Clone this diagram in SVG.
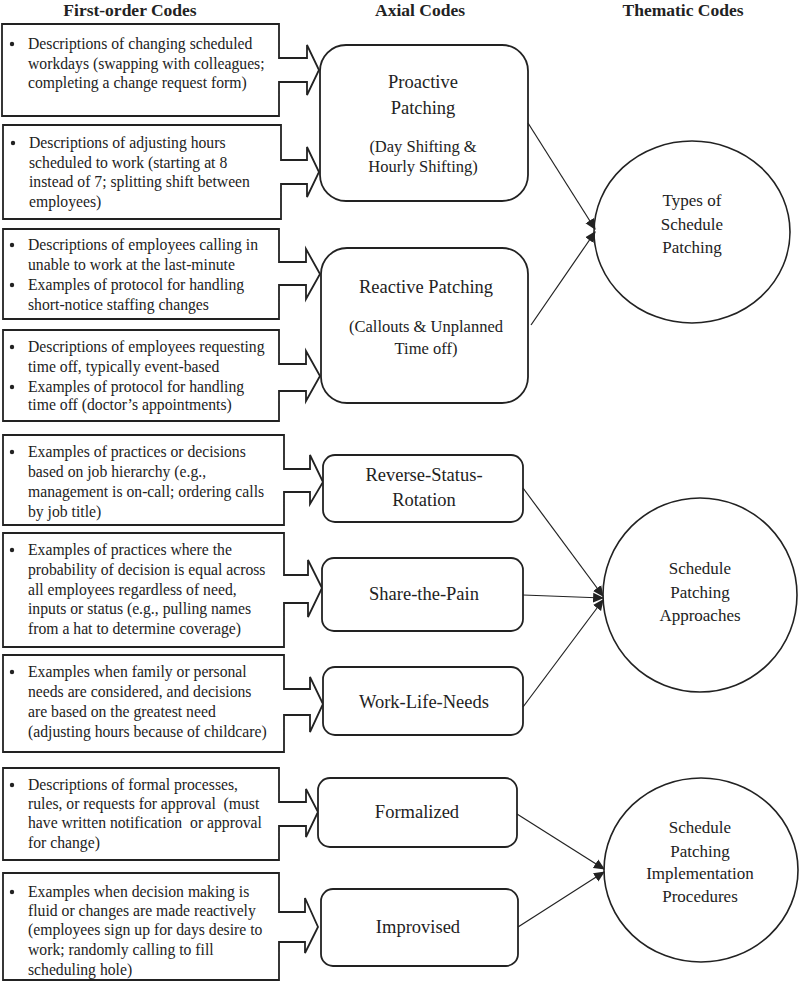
<svg xmlns="http://www.w3.org/2000/svg" width="800" height="982" viewBox="0 0 800 982">
<style>
.hd{font-family:"Liberation Serif",serif;font-weight:bold;font-size:17.5px;fill:#222;text-anchor:middle}
.bx{fill:#fff;stroke:#222;stroke-width:1.8;stroke-linejoin:miter}
.ax{fill:#fff;stroke:#222;stroke-width:1.8}
.th{fill:#fff;stroke:#222;stroke-width:1.6}
.t{font-family:"Liberation Serif",serif;font-size:15.7px;fill:#222;white-space:pre}
.a{font-family:"Liberation Serif",serif;font-size:18.5px;fill:#222;text-anchor:middle}
.s{font-family:"Liberation Serif",serif;font-size:16.5px;fill:#222;text-anchor:middle}
.c{font-family:"Liberation Serif",serif;font-size:17px;fill:#222;text-anchor:middle}
.b{fill:#222}
.ln{stroke:#222;stroke-width:1.2;fill:none;marker-end:url(#ah)}
</style>
<defs>
<marker id="ah" viewBox="0 0 10 10" refX="9" refY="5" markerWidth="11" markerHeight="11" markerUnits="userSpaceOnUse" orient="auto">
<path d="M0,0.5 L10,5 L0,9.5 Z" fill="#222"/>
</marker>
</defs>
<rect width="800" height="982" fill="#fff"/>
<g id="headers">
<text class="hd" x="130" y="16">First-order Codes</text>
<text class="hd" x="420" y="16">Axial Codes</text>
<text class="hd" x="683" y="16">Thematic Codes</text>
</g>

<g id="fo1">
<path class="bx" d="M2,24 H279 V58 H307 V45 L319,70 L307,95 V82 H279 V116 H2 Z"/>
<circle class="b" cx="12" cy="44" r="2.2"/>
<text class="t" x="28" y="49">Descriptions of changing scheduled</text>
<text class="t" x="28" y="69">workdays (swapping with colleagues;</text>
<text class="t" x="28" y="88">completing a change request form)</text>
</g>
<g id="fo2">
<path class="bx" d="M3,125 H281 V160 H307 V147 L319,172 L307,197 V184 H281 V219 H3 Z"/>
<circle class="b" cx="13" cy="143" r="2.2"/>
<text class="t" x="29" y="148">Descriptions of adjusting hours</text>
<text class="t" x="29" y="168">scheduled to work (starting at 8</text>
<text class="t" x="29" y="187">instead of 7; splitting shift between</text>
<text class="t" x="29" y="207">employees)</text>
</g>
<g id="fo3">
<path class="bx" d="M3,229 H279 V262 H306 V249 L320,274 L306,299 V285 H279 V319 H3 Z"/>
<circle class="b" cx="12" cy="245" r="2.2"/>
<circle class="b" cx="12" cy="285" r="2.2"/>
<text class="t" x="28" y="250">Descriptions of employees calling in</text>
<text class="t" x="28" y="270">unable to work at the last-minute</text>
<text class="t" x="28" y="290">Examples of protocol for handling</text>
<text class="t" x="28" y="310">short-notice staffing changes</text>
</g>
<g id="fo4">
<path class="bx" d="M3,330 H279 V364 H306 V351 L320,376 L306,401 V391 H279 V421 H3 Z"/>
<circle class="b" cx="12" cy="347" r="2.2"/>
<circle class="b" cx="12" cy="387" r="2.2"/>
<text class="t" x="28" y="352">Descriptions of employees requesting</text>
<text class="t" x="28" y="372">time off, typically event-based</text>
<text class="t" x="28" y="392">Examples of protocol for handling</text>
<text class="t" x="28" y="410">time off (doctor’s appointments)</text>
</g>
<g id="fo5">
<path class="bx" d="M3,435 H284 V469 H310 V455 L323,482 L310,504 V492 H284 V525 H3 Z"/>
<circle class="b" cx="12" cy="452" r="2.2"/>
<text class="t" x="28" y="457">Examples of practices or decisions</text>
<text class="t" x="28" y="477">based on job hierarchy (e.g.,</text>
<text class="t" x="28" y="497">management is on-call; ordering calls</text>
<text class="t" x="28" y="517">by job title)</text>
</g>
<g id="fo6">
<path class="bx" d="M3,533 H284 V575 H308 V560 L322,588 L308,617 V603 H284 V647 H3 Z"/>
<circle class="b" cx="12" cy="550" r="2.2"/>
<text class="t" x="28" y="555">Examples of practices where the</text>
<text class="t" x="28" y="575">probability of decision is equal across</text>
<text class="t" x="28" y="595">all employees regardless of need,</text>
<text class="t" x="28" y="614">inputs or status (e.g., pulling names</text>
<text class="t" x="28" y="634">from a hat to determine coverage)</text>
</g>
<g id="fo7">
<path class="bx" d="M3,655 H284 V689 H310 V677 L323,704 L310,732 V715 H284 V752 H3 Z"/>
<circle class="b" cx="12" cy="672" r="2.2"/>
<text class="t" x="28" y="677">Examples when family or personal</text>
<text class="t" x="28" y="697">needs are considered, and decisions</text>
<text class="t" x="28" y="717">are based on the greatest need</text>
<text class="t" x="28" y="737">(adjusting hours because of childcare)</text>
</g>
<g id="fo8">
<path class="bx" d="M3,768 H279 V802 H306 V789 L318,812 L306,837 V826 H279 V860 H3 Z"/>
<circle class="b" cx="12" cy="785" r="2.2"/>
<text class="t" x="28" y="790">Descriptions of formal processes,</text>
<text class="t" x="28" y="809">rules, or requests for approval  (must</text>
<text class="t" x="28" y="828">have written notification  or approval</text>
<text class="t" x="28" y="848">for change)</text>
</g>
<g id="fo9">
<path class="bx" d="M3,873 H279 V912 H305 V898 L318,927 L305,953 V942 H279 V980 H3 Z"/>
<circle class="b" cx="12" cy="892" r="2.2"/>
<text class="t" x="28" y="897">Examples when decision making is</text>
<text class="t" x="28" y="916">fluid or changes are made reactively</text>
<text class="t" x="28" y="935">(employees sign up for days desire to</text>
<text class="t" x="28" y="955">work; randomly calling to fill</text>
<text class="t" x="28" y="975">scheduling hole)</text>
</g>

<g id="ax1">
<rect class="ax" x="320" y="45" width="208" height="156" rx="26"/>
<text class="a" x="423" y="88">Proactive</text>
<text class="a" x="423" y="114">Patching</text>
<text class="s" x="423" y="152">(Day Shifting &amp;</text>
<text class="s" x="423" y="172">Hourly Shifting)</text>
</g>
<g id="ax2">
<rect class="ax" x="321" y="248" width="207" height="155" rx="26"/>
<text class="a" x="426" y="293">Reactive Patching</text>
<text class="s" x="426" y="332">(Callouts &amp; Unplanned</text>
<text class="s" x="426" y="354">Time off)</text>
</g>
<g id="ax3">
<rect class="ax" x="323" y="455" width="200" height="67" rx="12"/>
<text class="a" x="424" y="481">Reverse-Status-</text>
<text class="a" x="424" y="506">Rotation</text>
</g>
<g id="ax4">
<rect class="ax" x="322" y="558" width="201" height="73" rx="12"/>
<text class="a" x="424" y="600">Share-the-Pain</text>
</g>
<g id="ax5">
<rect class="ax" x="323" y="667" width="200" height="68" rx="12"/>
<text class="a" x="424" y="708">Work-Life-Needs</text>
</g>
<g id="ax6">
<rect class="ax" x="318" y="778" width="199" height="69" rx="12"/>
<text class="a" x="417" y="818">Formalized</text>
</g>
<g id="ax7">
<rect class="ax" x="321" y="889" width="197" height="77" rx="12"/>
<text class="a" x="418" y="933">Improvised</text>
</g>

<g id="th1">
<ellipse class="th" cx="692" cy="232" rx="98" ry="91"/>
<text class="c" x="692" y="206">Types of</text>
<text class="c" x="692" y="230">Schedule</text>
<text class="c" x="692" y="253">Patching</text>
</g>
<g id="th2">
<ellipse class="th" cx="700" cy="595" rx="97" ry="97"/>
<text class="c" x="700" y="574">Schedule</text>
<text class="c" x="700" y="598">Patching</text>
<text class="c" x="700" y="621">Approaches</text>
</g>
<g id="th3">
<ellipse class="th" cx="701" cy="870" rx="97" ry="92"/>
<text class="c" x="700" y="833">Schedule</text>
<text class="c" x="700" y="857">Patching</text>
<text class="c" x="700" y="879">Implementation</text>
<text class="c" x="700" y="902">Procedures</text>
</g>

<g id="connectors">
<line class="ln" x1="528" y1="123" x2="595" y2="229"/>
<line class="ln" x1="531" y1="325" x2="595" y2="232"/>
<line class="ln" x1="523" y1="488" x2="603" y2="596"/>
<line class="ln" x1="523" y1="595" x2="603" y2="598"/>
<line class="ln" x1="523" y1="707" x2="603" y2="600"/>
<line class="ln" x1="517" y1="814" x2="604" y2="869"/>
<line class="ln" x1="518" y1="927" x2="604" y2="872"/>
</g>
</svg>
